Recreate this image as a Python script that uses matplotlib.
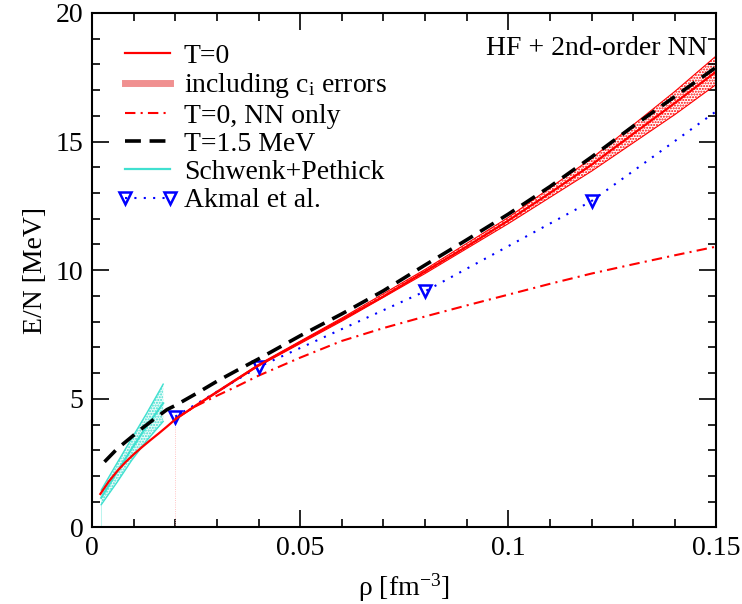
import numpy as np
import matplotlib
matplotlib.use("Agg")
import matplotlib.pyplot as plt
from matplotlib.lines import Line2D
from matplotlib.ticker import MultipleLocator

plt.rcParams["font.family"] = ["Liberation Serif", "DejaVu Serif"]
plt.rcParams["mathtext.fontset"] = "custom"
plt.rcParams["mathtext.rm"] = "Liberation Serif"
plt.rcParams["mathtext.it"] = "Liberation Serif:italic"

# ---- data ----
# T=0, HF + 2nd-order NN (red solid)
rho_t0 = [0.002, 0.004, 0.006, 0.008, 0.010, 0.012, 0.014, 0.016, 0.018, 0.020,
          0.025, 0.030, 0.035, 0.040, 0.050, 0.060, 0.070, 0.080, 0.090, 0.100,
          0.110, 0.120, 0.130, 0.140, 0.150]
e_t0 = [1.30, 1.78, 2.18, 2.53, 2.84, 3.12, 3.39, 3.65, 3.92, 4.20,
        4.75, 5.27, 5.79, 6.30, 7.20, 8.08, 8.98, 9.95, 10.92, 11.93,
        13.00, 14.10, 15.30, 16.50, 17.73]

# c_i error band
rho_band = [0.020, 0.040, 0.060, 0.080, 0.100, 0.120, 0.130, 0.140, 0.150]
e_band_hi = [4.21, 6.34, 8.14, 10.03, 12.05, 14.35, 15.65, 16.95, 18.34]
e_band_lo = [4.19, 6.27, 8.02, 9.87, 11.81, 13.85, 14.95, 16.05, 17.23]

# T=0, NN only (red dash-dot)
rho_nn = [0.020, 0.025, 0.030, 0.035, 0.040, 0.050, 0.060, 0.070, 0.080,
          0.090, 0.100, 0.110, 0.120, 0.130, 0.140, 0.150]
e_nn = [4.25, 4.72, 5.12, 5.50, 5.90, 6.60, 7.25, 7.75, 8.20,
        8.63, 9.05, 9.47, 9.87, 10.23, 10.58, 10.92]

# T=1.5 MeV (black dashed)
rho_t15 = [0.003, 0.006, 0.009, 0.012, 0.015, 0.018, 0.020, 0.025, 0.030, 0.035,
           0.040, 0.050, 0.060, 0.070, 0.080, 0.090, 0.100, 0.110, 0.120, 0.130,
           0.140, 0.150]
e_t15 = [2.55, 3.05, 3.45, 3.85, 4.22, 4.58, 4.74, 5.20, 5.68, 6.12,
         6.55, 7.45, 8.30, 9.20, 10.20, 11.18, 12.18, 13.25, 14.40, 15.60,
         16.75, 17.90]

# Schwenk+Pethick (cyan band + central line)
rho_sp = [0.0022, 0.006, 0.0095, 0.013, 0.0171]
e_sp = [1.15, 2.15, 3.05, 3.90, 4.83]
e_sp_hi = [1.45, 2.50, 3.45, 4.40, 5.57]
e_sp_lo = [0.88, 1.75, 2.60, 3.35, 4.12]

# Akmal et al. (blue triangles)
rho_apr = [0.02, 0.04, 0.08, 0.12, 0.16]
e_apr = [4.31, 6.24, 9.18, 12.69, 17.35]

fig = plt.figure(figsize=(7.42, 6.04), dpi=100)
ax = fig.add_axes([0.124, 0.1268, 0.8416, 0.8517])

red = "#ff0000"
cyan = "#40e0d0"

# cyan band
ax.fill_between(rho_sp, e_sp_lo, e_sp_hi, facecolor="#eafbf9", edgecolor=cyan,
                hatch="......", linewidth=0.0)
ax.plot(rho_sp, e_sp_hi, color=cyan, lw=1.0)
ax.plot(rho_sp, e_sp_lo, color=cyan, lw=1.0)
ax.plot(rho_sp, e_sp, color=cyan, lw=1.5)
ax.vlines(rho_sp[0], 0, e_sp_lo[0], color=cyan, lw=0.5, alpha=0.5)

# red c_i band
ax.fill_between(rho_band, e_band_lo, e_band_hi, facecolor="none", edgecolor=red,
                hatch="......", linewidth=0.0)
ax.plot(rho_band, e_band_hi, color=red, lw=0.8)
ax.plot(rho_band, e_band_lo, color=red, lw=0.8)
ax.vlines(rho_band[0], 0, e_band_lo[0], color="#ffb0b0", lw=0.6, linestyles=":")

ax.plot(rho_nn, e_nn, color=red, lw=1.5, dashes=(5, 2.5, 1, 2.5))
ax.plot(rho_apr, e_apr, color="#0000ff", lw=1.5, dashes=(1, 3.5),
        marker="v", ms=9, mfc="none", mec="#0000ff", mew=1.8)
ax.plot(rho_t0, e_t0, color=red, lw=1.6)
ax.plot(rho_t15, e_t15, color="black", lw=2.6, dashes=(4.4, 2.4))

ax.set_xlim(0, 0.15)
ax.set_ylim(0, 20)
ax.xaxis.set_minor_locator(MultipleLocator(0.01))
ax.yaxis.set_minor_locator(MultipleLocator(1))
ax.set_xticks([0, 0.05, 0.1, 0.15])
ax.set_xticklabels(["0", "0.05", "0.1", "0.15"])
ax.set_yticks([0, 5, 10, 15, 20])
ax.set_yticklabels(["0", "5", "10", "15", "20"])
ax.tick_params(which="both", direction="in", top=True, right=True, labelsize=20, width=1.2)
ax.tick_params(which="major", length=12, pad=6)
ax.tick_params(which="minor", length=5.5)
for s in ax.spines.values():
    s.set_linewidth(1.5)

ax.set_xlabel(r"ρ [fm$^{\mathrm{-3}}$]", fontsize=20, labelpad=8)
ax.set_ylabel("E/N [MeV]", fontsize=20, labelpad=6)

ax.text(0.985, 0.93, "HF + 2nd-order NN", transform=ax.transAxes, ha="right",
        va="center", fontsize=20)

handles = [
    Line2D([], [], color=red, lw=1.6),
    Line2D([], [], color="#f09090", lw=5),
    Line2D([], [], color=red, lw=1.5, dashes=(5, 2.5, 1, 2.5)),
    Line2D([], [], color="black", lw=2.6, dashes=(4.4, 2.4)),
    Line2D([], [], color=cyan, lw=1.6),
    Line2D([], [], color="#0000ff", lw=1.5, dashes=(1, 3.5), marker="v", ms=9,
           mfc="none", mec="#0000ff", mew=1.8),
]
labels = ["T=0", r"including c$_{\mathrm{i}}$ errors", "T=0, NN only",
          "T=1.5 MeV", "Schwenk+Pethick", "Akmal et al."]
ax.legend(handles, labels, loc="upper left", bbox_to_anchor=(0.0, 0.99),
          frameon=False, fontsize=20, handlelength=2.2, handletextpad=0.2,
          labelspacing=0.1, numpoints=2, borderaxespad=0.5)

fig.savefig("out.png", dpi=100)
